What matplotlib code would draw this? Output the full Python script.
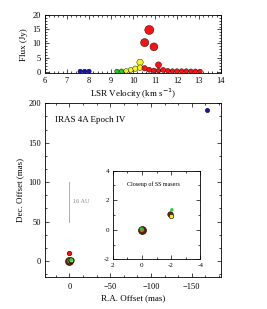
import numpy as np
import matplotlib
matplotlib.use("Agg")
import matplotlib.pyplot as plt
from matplotlib.ticker import MultipleLocator, AutoMinorLocator, FuncFormatter

plt.rcParams['font.family'] = ['Liberation Serif', 'DejaVu Serif']
plt.rcParams['axes.linewidth'] = 0.6

# ---------------- spectrum data ----------------
blue_vel = [7.6, 7.8, 8.0]
blue_flux = [0.1, 0.1, 0.1]
green_vel = [9.27, 9.48]
green_flux = [0.1, 0.15]
yellow_vel = [9.69, 9.90, 10.11, 10.32, 10.32]
yellow_flux = [0.25, 0.6, 1.05, 3.3, 1.4]
red_vel = [10.53, 10.74, 10.95, 11.16,
           10.53, 10.74, 10.95, 11.16, 11.37, 11.58, 11.79, 12.00,
           12.21, 12.42, 12.63, 12.84, 13.05]
red_flux = [10.3, 14.8, 8.8, 2.4,
            1.2, 0.65, 0.4, 0.35, 0.6, 0.3, 0.2, 0.2,
            0.2, 0.2, 0.15, 0.15, 0.1]

# ---------------- map data ----------------
map_ra = [-169, 0, 0, 0, 0.04, -1.9, -1.97, -2.05]
map_dec = [191, 9.6, 0, 0, 0.07, 1.1, 0.95, 1.35]
map_col = ['#1010d0', '#ff1010', '#6a1e10', '#8c8a25', '#22cc22', '#7a2010', '#f0f020', '#30d030']
map_size_px = [4.2, 4.5, 8.0, 4.5, 3.0, 5.5, 4.5, 3.5]
map_edge = ['k', 'k', 'k', 'none', 'none', 'k', 'k', 'none']

scale_bar_dec = [50, 100]
scale_bar_label = "16 AU"

DPI = 100
fig = plt.figure(figsize=(2.67, 3.09), dpi=DPI)

def px2s(d):
    return (d * 72.0 / DPI) ** 2

def style(ax, fs):
    ax.tick_params(which='both', direction='in', top=True, right=True,
                   width=0.5, labelsize=fs)
    ax.tick_params(which='major', length=2.6)
    ax.tick_params(which='minor', length=1.4)

# ---------- top: spectrum ----------
ax1 = fig.add_axes([45/267, 1-73.3/309, 176/267, 58/309])
for v, f, c in [(blue_vel, blue_flux, '#1010d0'), (green_vel, green_flux, '#22cc22'),
                (yellow_vel, yellow_flux, '#f5f520'), (red_vel, red_flux, '#ff1010')]:
    f = np.array(f)
    d = 4.0 + 1.3 * np.sqrt(f)
    ax1.scatter(v, f, s=px2s(d), c=c, edgecolors='k', linewidths=0.3, zorder=3)
ax1.set_xlim(6, 14)
ax1.set_ylim(-0.6, 20)
ax1.xaxis.set_major_locator(MultipleLocator(1))
ax1.xaxis.set_minor_locator(AutoMinorLocator(5))
ax1.yaxis.set_major_locator(MultipleLocator(5))
ax1.yaxis.set_minor_locator(AutoMinorLocator(5))
style(ax1, 6)
ax1.tick_params(axis='x', pad=2.5)
ax1.tick_params(axis='y', pad=3)
ax1.set_xlabel('LSR Velocity (km s$^{-1}$)', fontsize=6.5, labelpad=1.5)
ax1.set_ylabel('Flux (Jy)', fontsize=6.5, labelpad=3)

# ---------- main map ----------
ax2 = fig.add_axes([45/267, 1-276.7/309, 176/267, 173.4/309])
for x, y, c, d, e in zip(map_ra, map_dec, map_col, map_size_px, map_edge):
    ax2.scatter([x], [y], s=px2s(d), c=c, edgecolors=e, linewidths=0.4, zorder=3)
ax2.plot([0, 0], scale_bar_dec, color='#aaaaaa', lw=0.7)
ax2.text(-4, 75, scale_bar_label, fontsize=4.5, color='#888888', ha='left', va='center')
ax2.text(17.5, 179, 'IRAS 4A Epoch IV', fontsize=6.5, ha='left', va='center')
ax2.set_xlim(30, -186)
ax2.set_ylim(-20, 200)
ax2.xaxis.set_major_locator(MultipleLocator(50))
ax2.xaxis.set_minor_locator(AutoMinorLocator(3))
ax2.yaxis.set_major_locator(MultipleLocator(50))
ax2.yaxis.set_minor_locator(AutoMinorLocator(3))
ax2.set_xticks([0, -50, -100, -150])
style(ax2, 6)
ax2.tick_params(axis='x', pad=4.5)
ax2.tick_params(axis='y', pad=3)
ax2.set_xlabel('R.A. Offset (mas)', fontsize=6.5, labelpad=2)
ax2.set_ylabel('Dec. Offset (mas)', fontsize=6.5, labelpad=3)

# ---------- inset ----------
ax3 = fig.add_axes([112.7/267, 1-259.3/309, 87.6/267, 88.6/309])
for x, y, c, d, e in zip(map_ra, map_dec, map_col, map_size_px, map_edge):
    ax3.scatter([x], [y], s=px2s(d), c=c, edgecolors=e, linewidths=0.4, zorder=3)
ax3.text(-0.8, 3.1, 'Closeup of SS masers', fontsize=4.3, ha='center', va='center')
ax3.set_xlim(2, -4)
ax3.set_ylim(-2, 4)
ax3.xaxis.set_major_locator(MultipleLocator(2))
ax3.xaxis.set_minor_locator(AutoMinorLocator(2))
ax3.yaxis.set_major_locator(MultipleLocator(2))
ax3.yaxis.set_minor_locator(AutoMinorLocator(2))
fmt = FuncFormatter(lambda v, p: ('%d' % round(v)).replace('\u2212', '-'))
ax3.xaxis.set_major_formatter(fmt)
ax3.yaxis.set_major_formatter(fmt)
style(ax3, 5)
ax3.tick_params(axis='x', pad=3)
ax3.tick_params(axis='y', pad=2.5)
ax3.set_facecolor('white')

fig.savefig('out.png', dpi=DPI)
